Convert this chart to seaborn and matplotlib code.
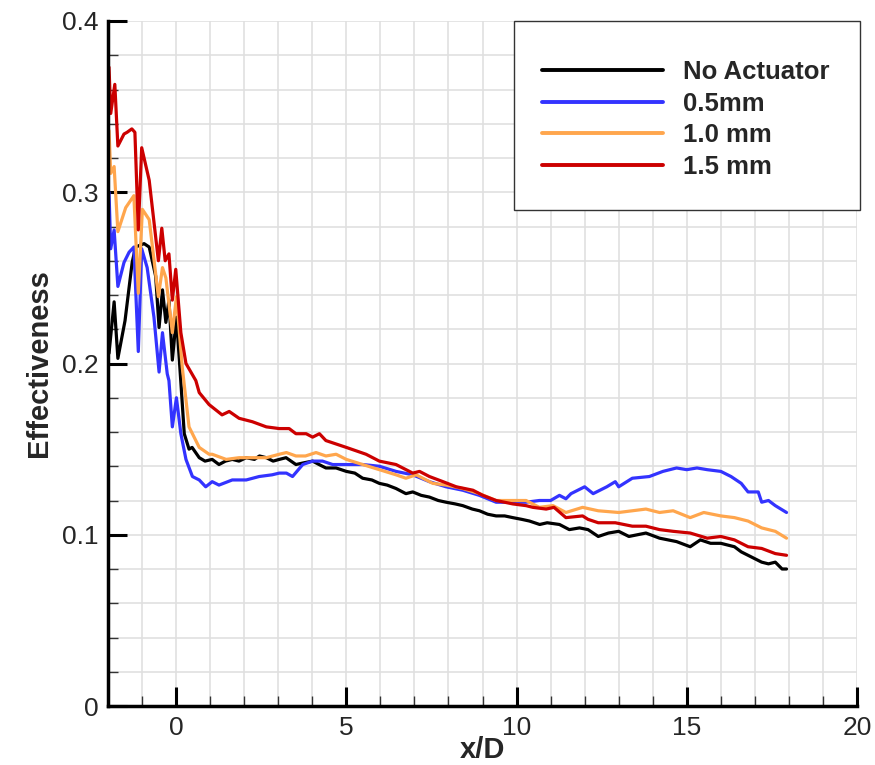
import matplotlib
matplotlib.use("Agg")
import matplotlib.pyplot as plt
from matplotlib.ticker import MultipleLocator
from matplotlib.patches import Rectangle
import seaborn as sns
import pandas as pd

series_names = ["No Actuator", "0.5mm", "1.0 mm", "1.5 mm"]
series_colors = ["#000000", "#3333ff", "#ffa64d", "#cc0000"]

black_x = [-1.97, -1.82, -1.71, -1.50, -1.29, -1.19, -0.94, -0.79, -0.60, -0.50, -0.40, -0.30, -0.21, -0.11,
           0.01, 0.14, 0.24, 0.38, 0.47, 0.68, 0.85, 1.06, 1.26, 1.45, 1.65, 1.85, 2.06, 2.30, 2.45, 2.65,
           2.85, 3.03, 3.23, 3.52, 3.75, 4.01, 4.20, 4.40, 4.70, 5.00, 5.25, 5.48, 5.75, 5.97, 6.20, 6.46,
           6.75, 6.95, 7.20, 7.44, 7.70, 7.93, 8.20, 8.42, 8.70, 8.91, 9.15, 9.40, 9.65, 9.89, 10.15, 10.38,
           10.68, 10.90, 11.26, 11.55, 11.85, 12.10, 12.40, 12.70, 13.00, 13.30, 13.55, 13.80, 14.20, 14.70,
           15.10, 15.40, 15.70, 16.00, 16.40, 16.60, 17.00, 17.20, 17.40, 17.60, 17.80, 17.93]
black_y = [0.206, 0.236, 0.203, 0.225, 0.259, 0.268, 0.270, 0.268, 0.251, 0.221, 0.243, 0.224, 0.237, 0.202,
           0.227, 0.189, 0.159, 0.150, 0.151, 0.145, 0.143, 0.144, 0.141, 0.143, 0.144, 0.143, 0.145, 0.144,
           0.146, 0.145, 0.143, 0.144, 0.145, 0.141, 0.142, 0.143, 0.141, 0.139, 0.139, 0.137, 0.136, 0.133,
           0.132, 0.130, 0.129, 0.127, 0.124, 0.125, 0.123, 0.122, 0.120, 0.119, 0.118, 0.117, 0.115, 0.114,
           0.112, 0.111, 0.111, 0.110, 0.109, 0.108, 0.106, 0.107, 0.106, 0.103, 0.104, 0.103, 0.099, 0.101,
           0.102, 0.099, 0.100, 0.101, 0.098, 0.096, 0.093, 0.097, 0.095, 0.095, 0.093, 0.090, 0.086, 0.084,
           0.083, 0.084, 0.080, 0.080]

blue_x = [-1.97, -1.92, -1.82, -1.71, -1.53, -1.38, -1.24, -1.11, -1.01, -0.85, -0.65, -0.50, -0.40, -0.26,
          -0.21, -0.11, 0.01, 0.14, 0.24, 0.29, 0.48, 0.68, 0.87, 1.06, 1.26, 1.65, 2.06, 2.44, 2.82, 3.03,
          3.24, 3.42, 3.72, 4.01, 4.30, 4.60, 5.00, 5.48, 5.97, 6.46, 6.95, 7.44, 7.93, 8.42, 8.91, 9.40,
          9.89, 10.28, 10.67, 11.00, 11.26, 11.45, 11.60, 12.00, 12.25, 12.65, 12.90, 13.00, 13.40, 13.90,
          14.30, 14.70, 15.00, 15.30, 15.60, 16.00, 16.30, 16.60, 16.80, 17.10, 17.20, 17.40, 17.60, 17.93]
blue_y = [0.300, 0.267, 0.278, 0.245, 0.259, 0.265, 0.268, 0.207, 0.267, 0.256, 0.227, 0.195, 0.218, 0.194,
          0.190, 0.163, 0.180, 0.159, 0.149, 0.144, 0.134, 0.132, 0.128, 0.131, 0.129, 0.132, 0.132, 0.134,
          0.135, 0.136, 0.136, 0.134, 0.141, 0.143, 0.143, 0.141, 0.141, 0.141, 0.140, 0.137, 0.135, 0.131,
          0.128, 0.126, 0.123, 0.119, 0.119, 0.119, 0.120, 0.120, 0.123, 0.121, 0.124, 0.128, 0.124, 0.128,
          0.131, 0.128, 0.133, 0.134, 0.137, 0.139, 0.138, 0.139, 0.138, 0.137, 0.134, 0.130, 0.125, 0.125,
          0.119, 0.120, 0.117, 0.113]

orange_x = [-1.97, -1.92, -1.82, -1.71, -1.48, -1.24, -1.11, -0.99, -0.79, -0.52, -0.40, -0.30, -0.11, 0.01,
            0.18, 0.38, 0.58, 0.68, 0.97, 1.06, 1.47, 1.85, 2.65, 3.03, 3.24, 3.52, 3.80, 4.11, 4.40, 4.70,
            5.00, 5.48, 5.97, 6.46, 6.75, 7.05, 7.54, 7.93, 8.42, 8.91, 9.40, 9.89, 10.28, 10.67, 11.07,
            11.45, 11.94, 12.40, 13.00, 13.40, 13.80, 14.20, 14.60, 15.10, 15.50, 16.00, 16.40, 16.80, 17.20,
            17.60, 17.93]
orange_y = [0.336, 0.311, 0.315, 0.277, 0.291, 0.298, 0.241, 0.290, 0.284, 0.239, 0.256, 0.250, 0.218, 0.239,
            0.198, 0.163, 0.155, 0.151, 0.147, 0.147, 0.144, 0.145, 0.145, 0.147, 0.148, 0.146, 0.146, 0.148,
            0.146, 0.147, 0.144, 0.141, 0.138, 0.135, 0.133, 0.135, 0.130, 0.129, 0.127, 0.124, 0.120, 0.120,
            0.120, 0.116, 0.117, 0.113, 0.116, 0.114, 0.113, 0.114, 0.115, 0.113, 0.114, 0.110, 0.113, 0.111,
            0.110, 0.108, 0.104, 0.102, 0.098]

red_x = [-1.97, -1.92, -1.80, -1.71, -1.53, -1.44, -1.30, -1.21, -1.11, -1.01, -0.79, -0.52, -0.42, -0.32,
         -0.21, -0.11, -0.01, 0.14, 0.29, 0.58, 0.68, 0.97, 1.35, 1.56, 1.85, 2.24, 2.65, 3.03, 3.32, 3.52,
         3.82, 4.01, 4.21, 4.40, 5.00, 5.58, 5.97, 6.46, 6.95, 7.15, 7.44, 7.84, 8.23, 8.72, 9.01, 9.40,
         9.89, 10.28, 10.48, 10.87, 11.10, 11.45, 11.94, 12.10, 12.40, 12.90, 13.40, 13.80, 14.20, 14.60,
         15.10, 15.60, 16.00, 16.40, 16.80, 17.20, 17.60, 17.93]
red_y = [0.373, 0.346, 0.363, 0.327, 0.334, 0.335, 0.337, 0.335, 0.278, 0.326, 0.307, 0.260, 0.279, 0.260,
         0.264, 0.237, 0.255, 0.218, 0.200, 0.190, 0.183, 0.176, 0.170, 0.172, 0.168, 0.166, 0.163, 0.162,
         0.162, 0.159, 0.159, 0.157, 0.159, 0.155, 0.151, 0.147, 0.143, 0.141, 0.136, 0.137, 0.134, 0.131,
         0.128, 0.126, 0.123, 0.120, 0.118, 0.117, 0.116, 0.115, 0.116, 0.110, 0.111, 0.109, 0.107, 0.107,
         0.105, 0.105, 0.103, 0.102, 0.101, 0.098, 0.099, 0.097, 0.093, 0.092, 0.089, 0.088]

xs = [black_x, blue_x, orange_x, red_x]
ys = [black_y, blue_y, orange_y, red_y]
frames = []
for name, x, y in zip(series_names, xs, ys):
    frames.append(pd.DataFrame({"x": x, "y": y, "series": name}))
df = pd.concat(frames, ignore_index=True)

sns.set_style("white")
plt.rcParams["font.family"] = ["Liberation Sans", "DejaVu Sans"]

fig = plt.figure(figsize=(8.75, 7.65), dpi=100)
ax = fig.add_axes([108 / 875, 1 - 706 / 765, 749 / 875, 685 / 765])

sns.lineplot(data=df, x="x", y="y", hue="series", hue_order=series_names,
             palette=dict(zip(series_names, series_colors)), estimator=None,
             linewidth=2.3, ax=ax, legend=False)

ax.set_xlim(-2, 20)
ax.set_ylim(0, 0.4)
ax.xaxis.set_minor_locator(MultipleLocator(1))
ax.yaxis.set_minor_locator(MultipleLocator(0.02))
ax.set_yticks([0, 0.1, 0.2, 0.3, 0.4])
ax.set_yticklabels(["0", "0.1", "0.2", "0.3", "0.4"])
ax.set_xticks([0, 5, 10, 15, 20])
ax.set_xticklabels(["0", "5", "10", "15", "20"])
ax.grid(True, which="both", color="#e0e0e0", linewidth=1.2)
ax.set_axisbelow(True)

for s in ["top", "right"]:
    ax.spines[s].set_visible(False)
for s in ["left", "bottom"]:
    ax.spines[s].set_linewidth(2.5)
    ax.spines[s].set_color("black")

ax.tick_params(which="both", bottom=True, left=True, top=False, right=False)
ax.tick_params(which="major", direction="in", length=14, width=2.2, color="black",
               labelsize=19, pad=7)
ax.tick_params(which="minor", direction="in", length=7, width=1.0, color="#333333")

ax.set_xlabel("x/D", fontsize=21, fontweight="bold", labelpad=-3)
ax.set_ylabel("Effectiveness", fontsize=21, fontweight="bold", labelpad=6)

# legend box
rect = Rectangle(((514 - 108) / 749, (706 - 210) / 685), (860 - 514) / 749, (210 - 21) / 685,
                 transform=ax.transAxes, facecolor="white", edgecolor="#333333", linewidth=1.0,
                 clip_on=False, zorder=5)
ax.add_patch(rect)
handles = [plt.Line2D([], [], color=c, linewidth=2.8) for c in series_colors]
leg = ax.legend(handles, series_names, loc="upper left",
                bbox_to_anchor=((542 - 108) / 749, (706 - 60) / 685),
                frameon=False, borderpad=0, borderaxespad=0, handlelength=4.7,
                handletextpad=0.8, labelspacing=0.3,
                prop={"family": "Liberation Sans", "weight": "bold", "size": 18.5})
leg.set_zorder(6)

fig.savefig("out.png", dpi=100)
